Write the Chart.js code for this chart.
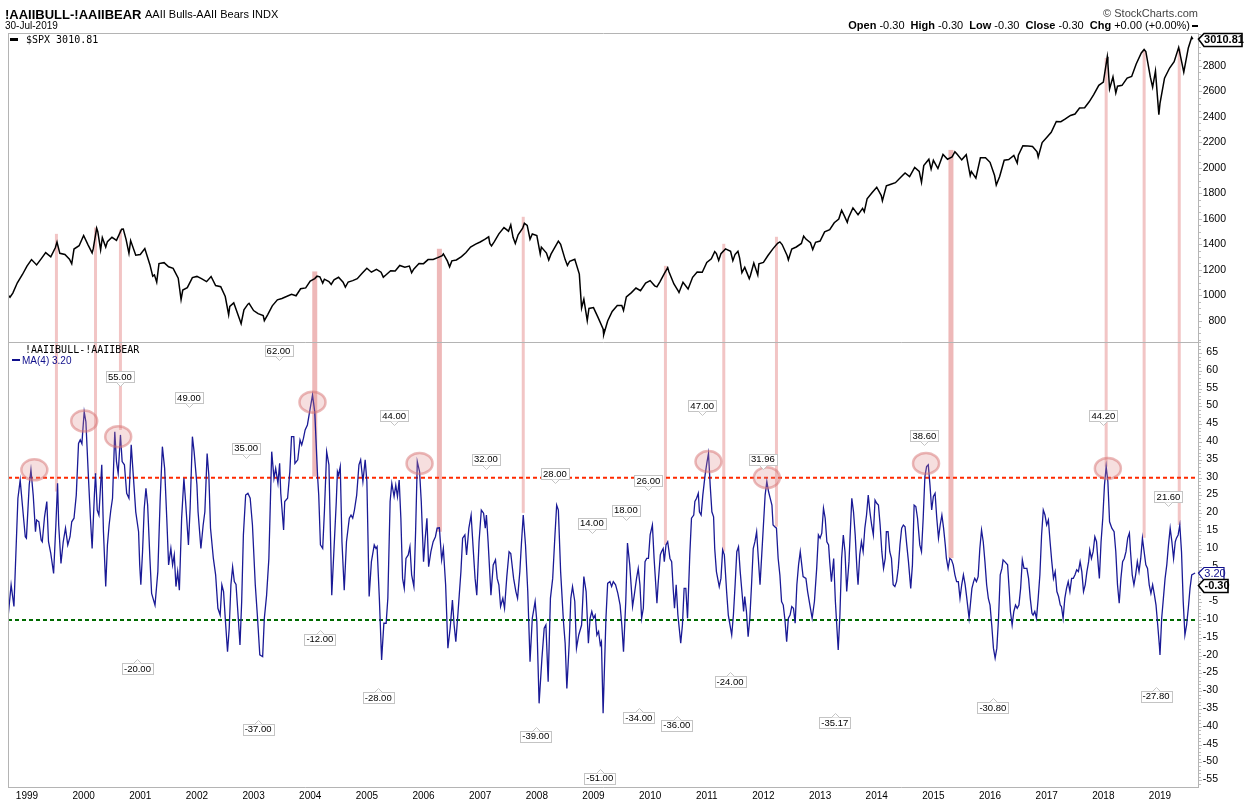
<!DOCTYPE html>
<html><head><meta charset="utf-8">
<script src="https://cdn.jsdelivr.net/npm/chart.js@4.4.1/dist/chart.umd.min.js"></script>
<style>html,body{margin:0;padding:0;background:#fff;overflow:hidden}#wrap{position:relative;width:1247px;height:807px}</style>
</head><body><div id="wrap"><canvas id="c" width="1247" height="807"></canvas></div>
<script>
// ---- x-axis tick labels
const years = [1999,2000,2001,2002,2003,2004,2005,2006,2007,2008,2009,2010,2011,2012,2013,2014,2015,2016,2017,2018,2019];
const spxTicks = [800,1000,1200,1400,1600,1800,2000,2200,2400,2600,2800];
const aaiiTicks = [-55,-50,-45,-40,-35,-30,-25,-20,-15,-10,-5,0,5,10,15,20,25,30,35,40,45,50,55,60,65];

// ---- $SPX (decimal year, close)
const spxDates = [
1998.67,1998.70,1998.75,1998.83,1998.92,1999.00,1999.08,1999.17,1999.25,1999.33,1999.42,1999.50,1999.53,1999.58,1999.67,1999.75,
1999.79,1999.83,1999.92,2000.00,2000.08,2000.15,2000.17,2000.23,2000.25,2000.30,2000.33,2000.39,2000.42,2000.50,2000.58,2000.67,
2000.70,2000.75,2000.80,2000.83,2000.92,2001.00,2001.08,2001.17,2001.22,2001.25,2001.29,2001.33,2001.42,2001.50,2001.58,2001.67,
2001.72,2001.75,2001.83,2001.92,2002.00,2002.08,2002.17,2002.25,2002.33,2002.42,2002.50,2002.56,2002.58,2002.65,2002.67,2002.75,
2002.78,2002.83,2002.90,2002.92,2003.00,2003.08,2003.17,2003.19,2003.25,2003.33,2003.42,2003.50,2003.58,2003.67,2003.75,2003.83,
2003.92,2004.00,2004.08,2004.12,2004.17,2004.22,2004.25,2004.33,2004.37,2004.42,2004.50,2004.58,2004.62,2004.67,2004.75,2004.83,
2004.92,2005.00,2005.08,2005.17,2005.25,2005.29,2005.33,2005.42,2005.50,2005.58,2005.67,2005.75,2005.79,2005.83,2005.92,2006.00,
2006.08,2006.17,2006.25,2006.33,2006.35,2006.42,2006.46,2006.50,2006.58,2006.67,2006.75,2006.83,2006.92,2007.00,2007.08,2007.15,
2007.17,2007.20,2007.25,2007.33,2007.42,2007.50,2007.54,2007.58,2007.62,2007.67,2007.75,2007.78,2007.83,2007.88,2007.92,2008.00,
2008.06,2008.08,2008.17,2008.21,2008.25,2008.33,2008.38,2008.42,2008.50,2008.54,2008.58,2008.67,2008.75,2008.79,2008.83,2008.89,
2008.92,2009.00,2009.08,2009.17,2009.18,2009.25,2009.33,2009.42,2009.50,2009.53,2009.58,2009.67,2009.75,2009.83,2009.92,2010.00,
2010.08,2010.12,2010.17,2010.25,2010.31,2010.33,2010.42,2010.50,2010.51,2010.58,2010.67,2010.75,2010.83,2010.92,2011.00,2011.08,
2011.14,2011.17,2011.21,2011.25,2011.33,2011.42,2011.46,2011.50,2011.55,2011.58,2011.62,2011.67,2011.75,2011.77,2011.83,2011.90,
2011.92,2012.00,2012.08,2012.17,2012.25,2012.29,2012.33,2012.42,2012.44,2012.50,2012.58,2012.67,2012.71,2012.75,2012.83,2012.87,
2012.92,2013.00,2013.08,2013.17,2013.25,2013.33,2013.38,2013.42,2013.48,2013.50,2013.58,2013.67,2013.75,2013.78,2013.83,2013.92,
2014.00,2014.08,2014.10,2014.17,2014.25,2014.33,2014.42,2014.50,2014.58,2014.67,2014.75,2014.79,2014.83,2014.92,2014.96,2015.00,
2015.08,2015.17,2015.25,2015.33,2015.38,2015.42,2015.50,2015.58,2015.65,2015.67,2015.75,2015.83,2015.92,2016.00,2016.08,
2016.11,2016.17,2016.25,2016.33,2016.42,2016.48,2016.50,2016.58,2016.67,2016.75,2016.83,2016.85,2016.92,2017.00,2017.08,2017.17,
2017.25,2017.33,2017.42,2017.50,2017.58,2017.67,2017.75,2017.83,2017.92,2018.00,2018.07,2018.08,2018.11,2018.17,2018.22,2018.25,
2018.33,2018.42,2018.50,2018.58,2018.67,2018.72,2018.75,2018.83,2018.87,2018.92,2018.98,2019.00,2019.08,2019.17,2019.25,2019.33,
2019.42,2019.50,2019.56,2019.58];
const spxValues = [
1000,985,1017,1098,1163,1229,1280,1238,1286,1335,1302,1373,1418,1329,1320,1283,
1247,1363,1389,1469,1394,1333,1366,1527,1499,1356,1452,1378,1421,1455,1431,1518,
1520,1437,1329,1429,1315,1320,1366,1240,1150,1160,1103,1249,1256,1224,1211,1134,
966,1041,1060,1139,1148,1130,1107,1147,1076,1067,990,847,912,940,916,815,
777,886,930,936,880,856,841,800,848,917,964,975,990,1008,996,1051,
1058,1112,1131,1150,1145,1095,1126,1107,1085,1121,1141,1102,1064,1104,1115,1130,
1174,1212,1181,1204,1181,1142,1157,1192,1191,1234,1220,1229,1177,1207,1249,1248,
1280,1281,1295,1311,1325,1270,1223,1270,1277,1304,1336,1378,1401,1418,1438,1459,
1407,1387,1421,1482,1531,1503,1553,1455,1406,1474,1527,1565,1549,1440,1481,1468,
1325,1378,1331,1276,1323,1386,1425,1400,1280,1234,1267,1283,1166,900,969,800,
896,903,826,735,690,798,873,919,919,880,987,1021,1057,1036,1096,1115,
1074,1066,1104,1169,1217,1187,1089,1031,1022,1102,1049,1141,1183,1181,1258,1286,
1343,1327,1273,1326,1364,1345,1271,1321,1345,1292,1178,1219,1131,1155,1253,1159,
1247,1258,1312,1366,1408,1419,1398,1310,1278,1362,1379,1407,1465,1441,1412,1359,
1416,1426,1498,1515,1569,1598,1667,1631,1573,1606,1686,1633,1682,1655,1757,1806,
1848,1783,1741,1859,1872,1884,1924,1960,1931,2003,1972,1886,2018,2068,1990,2059,
1995,2105,2068,2086,2127,2107,2063,2104,1940,1972,1920,2079,2080,2044,1940,
1865,1932,2060,2065,2097,2037,2099,2174,2171,2168,2126,2085,2199,2239,2279,2364,
2363,2384,2412,2423,2470,2472,2519,2575,2648,2674,2873,2824,2620,2714,2588,2641,
2648,2705,2718,2816,2902,2930,2914,2712,2633,2760,2417,2507,2704,2784,2834,2946,
2752,2942,3025,3011];

// ---- AAII Bulls-Bears, MA(4) (decimal year, value)
const aaiiDates = [
1998.67,1998.72,1998.77,1998.84,1998.88,1998.94,1998.97,1998.99,1999.04,1999.07,1999.11,1999.15,1999.17,1999.21,1999.25,1999.27,
1999.31,1999.35,1999.38,1999.42,1999.47,1999.51,1999.54,1999.56,1999.60,1999.64,1999.68,1999.72,1999.76,1999.79,1999.83,1999.87,
1999.91,1999.94,1999.97,1999.98,2000.01,2000.04,2000.08,2000.12,2000.15,2000.19,2000.21,2000.24,2000.27,2000.32,2000.35,2000.39,
2000.42,2000.45,2000.48,2000.51,2000.55,2000.58,2000.61,2000.65,2000.68,2000.72,2000.76,2000.80,2000.84,2000.88,2000.92,2000.97,
2000.99,2001.01,2001.04,2001.07,2001.10,2001.13,2001.17,2001.20,2001.26,2001.31,2001.35,2001.39,2001.43,2001.47,2001.50,2001.54,
2001.57,2001.60,2001.63,2001.66,2001.69,2001.73,2001.77,2001.80,2001.85,2001.88,2001.92,2001.95,2002.00,2002.02,2002.07,2002.11,
2002.14,2002.18,2002.21,2002.24,2002.29,2002.33,2002.37,2002.41,2002.44,2002.47,2002.50,2002.54,2002.57,2002.60,2002.63,2002.66,
2002.69,2002.73,2002.76,2002.79,2002.82,2002.86,2002.90,2002.94,2002.98,2003.03,2003.07,2003.11,2003.16,2003.19,2003.23,2003.27,
2003.32,2003.36,2003.39,2003.43,2003.46,2003.48,2003.53,2003.55,2003.60,2003.64,2003.67,2003.71,2003.73,2003.78,2003.82,2003.85,
2003.88,2003.91,2003.95,2003.98,2004.04,2004.08,2004.13,2004.15,2004.18,2004.22,2004.25,2004.29,2004.33,2004.35,2004.38,2004.42,
2004.46,2004.48,2004.50,2004.53,2004.56,2004.60,2004.64,2004.69,2004.72,2004.75,2004.78,2004.82,2004.86,2004.89,2004.93,2004.97,
2005.00,2005.04,2005.08,2005.13,2005.16,2005.18,2005.22,2005.26,2005.30,2005.34,2005.37,2005.41,2005.44,2005.48,2005.51,2005.54,
2005.57,2005.60,2005.63,2005.66,2005.69,2005.73,2005.76,2005.79,2005.83,2005.86,2005.89,2005.93,2005.96,2006.00,2006.03,2006.06,
2006.09,2006.13,2006.17,2006.21,2006.24,2006.28,2006.32,2006.35,2006.39,2006.43,2006.47,2006.51,2006.54,2006.57,2006.61,2006.66,
2006.69,2006.73,2006.76,2006.80,2006.84,2006.88,2006.91,2006.94,2006.98,2007.02,2007.06,2007.09,2007.11,2007.14,2007.19,2007.23,
2007.27,2007.30,2007.33,2007.36,2007.40,2007.43,2007.47,2007.51,2007.54,2007.59,2007.63,2007.66,2007.70,2007.73,2007.76,2007.80,
2007.84,2007.88,2007.92,2007.97,2008.00,2008.04,2008.09,2008.13,2008.16,2008.20,2008.24,2008.28,2008.32,2008.35,2008.38,2008.42,
2008.47,2008.50,2008.53,2008.57,2008.60,2008.63,2008.67,2008.70,2008.74,2008.79,2008.83,2008.87,2008.91,2008.94,2008.97,2009.00,
2009.03,2009.06,2009.09,2009.12,2009.14,2009.17,2009.22,2009.25,2009.29,2009.32,2009.35,2009.39,2009.43,2009.47,2009.50,2009.53,
2009.57,2009.60,2009.64,2009.69,2009.72,2009.76,2009.79,2009.82,2009.85,2009.88,2009.91,2009.94,2009.97,2010.00,2010.04,2010.07,
2010.12,2010.14,2010.18,2010.20,2010.23,2010.25,2010.28,2010.31,2010.35,2010.38,2010.41,2010.43,2010.46,2010.49,2010.52,2010.54,
2010.57,2010.60,2010.63,2010.66,2010.70,2010.73,2010.77,2010.79,2010.82,2010.85,2010.87,2010.90,2010.93,2010.97,2011.00,2011.03,
2011.06,2011.09,2011.12,2011.14,2011.17,2011.22,2011.25,2011.28,2011.31,2011.35,2011.38,2011.41,2011.44,2011.47,2011.50,2011.53,
2011.56,2011.59,2011.62,2011.65,2011.67,2011.70,2011.73,2011.76,2011.79,2011.82,2011.85,2011.88,2011.91,2011.94,2011.97,2012.00,
2012.03,2012.06,2012.09,2012.12,2012.15,2012.17,2012.20,2012.23,2012.26,2012.29,2012.32,2012.35,2012.38,2012.41,2012.44,2012.47,
2012.50,2012.53,2012.56,2012.59,2012.62,2012.65,2012.67,2012.70,2012.75,2012.78,2012.82,2012.86,2012.90,2012.94,2012.97,2013.00,
2013.03,2013.06,2013.09,2013.12,2013.15,2013.17,2013.20,2013.24,2013.27,2013.32,2013.35,2013.38,2013.41,2013.44,2013.47,2013.51,
2013.56,2013.59,2013.62,2013.65,2013.67,2013.70,2013.73,2013.76,2013.79,2013.82,2013.85,2013.88,2013.91,2013.94,2013.97,2014.00,
2014.03,2014.06,2014.09,2014.12,2014.15,2014.17,2014.20,2014.23,2014.26,2014.29,2014.32,2014.35,2014.38,2014.41,2014.44,2014.47,
2014.50,2014.53,2014.56,2014.60,2014.63,2014.66,2014.69,2014.72,2014.76,2014.79,2014.82,2014.85,2014.88,2014.91,2014.94,2014.97,
2015.00,2015.03,2015.06,2015.09,2015.12,2015.15,2015.18,2015.21,2015.23,2015.26,2015.29,2015.32,2015.35,2015.38,2015.41,2015.44,
2015.47,2015.50,2015.53,2015.56,2015.59,2015.63,2015.68,2015.71,2015.73,2015.76,2015.79,2015.82,2015.85,2015.88,2015.91,2015.94,
2015.97,2016.00,2016.03,2016.06,2016.09,2016.12,2016.15,2016.18,2016.21,2016.23,2016.26,2016.31,2016.34,2016.36,2016.39,2016.42,
2016.45,2016.48,2016.51,2016.54,2016.57,2016.60,2016.65,2016.68,2016.71,2016.74,2016.76,2016.79,2016.82,2016.85,2016.88,2016.91,
2016.94,2016.97,2017.00,2017.03,2017.06,2017.09,2017.12,2017.15,2017.18,2017.21,2017.24,2017.26,2017.29,2017.32,2017.35,2017.38,
2017.41,2017.44,2017.47,2017.50,2017.53,2017.56,2017.59,2017.62,2017.65,2017.68,2017.71,2017.74,2017.76,2017.79,2017.82,2017.85,
2017.88,2017.91,2017.93,2017.96,2017.99,2018.02,2018.05,2018.08,2018.11,2018.15,2018.19,2018.22,2018.25,2018.28,2018.31,2018.34,
2018.37,2018.40,2018.43,2018.46,2018.48,2018.51,2018.54,2018.57,2018.60,2018.63,2018.66,2018.69,2018.72,2018.75,2018.78,2018.81,
2018.84,2018.87,2018.90,2018.93,2018.96,2018.99,2019.00,2019.03,2019.06,2019.09,2019.12,2019.15,2019.18,2019.21,2019.24,2019.27,
2019.29,2019.32,2019.35,2019.38,2019.41,2019.44,2019.47,2019.50,2019.53,2019.56,2019.62];
const aaiiValues = [
-8.6,-0.1,-6.2,24.2,29.3,18.6,13.4,13.0,28.0,32.2,25.1,14.8,18.1,17.6,12.5,12.0,
19.0,23.3,12.0,8.7,3.1,16.7,28.4,16.7,5.9,12.0,15.8,11.1,13.4,17.6,18.6,25.1,
39.6,40.6,39.5,42.0,48.5,45.7,31.7,18.6,10.1,25.1,31.2,20.9,19.5,33.6,14.8,-0.6,
11.1,16.7,20.9,24.2,42.9,34.5,31.2,42.0,34.5,33.6,25.6,24.2,39.2,29.8,20.4,14.8,
5.5,-0.1,9.2,21.4,27.0,22.3,7.3,-2.5,-5.8,3.6,23.3,38.7,32.6,17.6,5.5,10.1,
5.5,8.3,-0.6,3.6,-1.6,18.6,29.8,23.3,11.1,21.4,41.5,37.3,28.0,20.4,10.1,16.7,
20.4,36.8,30.7,15.8,7.3,2.7,-6.7,-8.6,-0.1,-2.0,-9.5,-18.9,-12.3,-0.1,4.9,0.8,
0.0,-9.5,-17.0,-4.8,13.9,25.1,25.6,24.2,16.7,-0.1,-9.5,-19.8,-20.3,-9.5,-3.0,7.3,
37.3,29.8,32.6,28.4,34.0,25.6,15.3,23.3,24.2,31.7,41.5,41.5,34.0,35.0,40.6,39.2,
41.0,43.4,44.8,47.6,53.2,48.5,30.3,25.1,11.1,10.1,20.4,37.3,33.6,19.5,-3.0,10.1,
23.3,31.7,30.7,33.1,12.0,-1.6,12.0,18.6,19.5,18.6,20.9,25.1,33.6,35.0,28.9,35.0,
28.9,-3.4,6.4,11.1,10.1,10.6,-3.9,-21.2,-10.9,-10.9,-3.9,23.3,28.4,24.7,27.9,24.7,
29.3,18.6,1.7,-1.1,7.3,8.3,10.6,2.7,-0.6,14.8,34.5,31.7,23.3,6.4,13.0,18.6,
5.0,9.2,12.0,13.4,15.8,15.9,6.9,10.1,-0.1,-17.9,-12.3,-4.4,-11.4,-16.1,-7.6,3.6,
13.0,13.9,8.3,15.8,19.5,9.2,1.7,-3.0,12.0,20.9,20.0,15.8,19.5,12.0,-3.0,5.5,
6.9,1.7,-0.1,-6.2,-3.9,-6.7,2.2,9.2,8.7,1.7,-2.0,-3.9,3.6,12.0,19.5,11.1,
-2.0,-21.7,-9.5,-4.8,-10.4,-33.4,-20.7,-12.3,-11.4,-27.3,-3.9,1.7,13.9,22.3,20.9,3.6,
-10.4,-16.5,-29.2,-17.0,-3.9,-0.6,-4.8,-17.9,-14.2,-11.4,2.2,-2.0,-16.5,-9.5,-7.6,-9.5,
-8.6,-14.2,-13.2,-17.0,-16.1,-36.2,-9.5,0.3,0.8,-0.6,0.8,-0.1,-2.5,-5.8,-11.4,-18.9,
-4.8,11.6,5.5,-6.2,-3.0,1.7,4.5,-0.1,-9.5,-6.7,6.4,7.3,7.3,13.9,16.7,7.3,
-5.3,-0.1,8.3,9.2,10.1,6.4,11.1,12.0,7.3,6.4,-2.0,-6.7,-0.1,-8.6,-13.3,-16.5,
-11.4,-1.1,-1.1,-9.5,8.3,18.6,19.5,23.3,24.2,25.6,20.4,19.5,25.1,30.7,34.0,36.8,
27.9,20.4,19.0,10.1,3.6,-0.6,1.7,9.7,8.3,-2.0,-8.6,-11.4,-14.2,-8.6,-0.1,9.2,
10.6,3.6,-2.0,-7.6,-3.4,-7.6,-14.7,-9.5,-0.1,10.1,12.0,14.8,7.3,-0.1,8.3,16.7,
25.1,28.9,26.1,24.2,22.3,16.7,16.2,15.8,7.3,2.7,-4.8,-5.8,-10.0,-16.1,-9.5,-8.6,
-6.2,-6.7,-10.9,-0.1,5.5,9.2,6.4,2.2,1.7,-2.0,-5.8,-9.5,-4.8,4.5,13.9,13.0,
14.4,21.4,18.6,12.0,11.1,6.4,0.8,7.3,-4.8,-18.4,-8.6,7.3,13.9,9.2,-2.0,6.4,
24.2,20.4,13.9,4.5,-0.1,8.3,12.0,9.2,15.8,19.5,25.1,20.4,16.7,13.9,23.7,22.8,
22.3,16.7,9.2,4.5,7.3,14.8,14.8,9.2,7.3,-0.1,-0.6,0.8,4.5,11.1,15.8,16.7,
16.2,11.1,6.4,-1.1,5.5,22.3,21.9,18.6,11.1,9.2,18.6,30.3,33.1,33.6,27.9,20.9,
24.7,25.6,18.6,13.0,16.7,19.5,15.8,11.1,7.3,4.5,7.3,6.9,5.5,2.7,0.8,0.8,
-3.9,-0.1,2.7,0.0,-3.9,-9.5,-1.1,0.8,1.7,0.8,2.2,10.1,15.3,12.0,6.4,-0.1,
-3.9,-5.8,-11.4,-17.9,-20.7,-17.9,-9.5,2.7,4.5,6.9,6.4,5.5,-2.0,-7.6,-11.4,-7.6,
-5.8,-6.7,-5.8,-1.1,6.9,4.5,4.5,1.7,-3.9,-8.1,-8.6,-7.6,-9.5,-3.9,2.7,13.9,
20.9,19.5,16.7,18.1,12.0,6.4,1.7,3.6,-2.0,-3.4,-5.8,-6.2,-9.5,-3.9,-1.1,0.8,
-2.0,1.7,1.7,2.7,4.1,3.6,6.4,3.6,-2.0,-0.1,3.6,6.4,9.7,7.3,9.2,13.4,
12.0,5.5,1.7,12.0,18.6,27.9,33.1,28.9,17.6,15.8,14.8,9.2,-0.1,-5.3,1.7,6.4,
7.3,9.2,13.0,14.4,9.2,2.7,-0.1,2.7,6.4,3.6,7.3,13.0,9.2,5.5,4.5,-0.1,
-2.5,-0.1,-2.8,-5.8,-11.4,-17.3,-19.8,-9.5,-3.9,1.7,5.5,11.1,15.8,12.0,7.3,12.0,
13.0,13.9,16.7,9.2,-4.8,-14.2,-11.4,-6.7,-1.1,2.7,3.2];

// ---- reference levels, last values
const upperLevel = 30;
const lowerLevel = -10;
const lastSpx = 3010.81;
const lastMA = 3.20;
const lastRaw = -0.30;

// ---- highlighted signals (vertical bars from AAII up to SPX)
const barDates = [1999.52,2000.21,2000.65,2004.08,2006.28,2007.76,2010.27,2011.30,2012.23,2015.31,2018.05,2018.72,2019.34];
const barSpx   = [1482,1532,1514,1187,1365,1616,1231,1404,1459,2141,2863,2925,2935];
const barAaii  = [26.1,30.8,43.4,30.3,14.8,20.1,11.1,9.2,16.2,7.4,33.1,13.1,16.7];
const barWidths = [3,3,3,5,5,3,3,3,3,5,3,3,3];

// ---- circled peaks
const circleDates  = [1999.13,2000.01,2000.61,2004.04,2005.93,2011.03,2012.06,2014.87,2018.08];
const circleValues = [32.2,45.9,41.5,51.2,34.0,34.5,30.0,34.0,32.6];

// ---- annotation tags
const labelTexts  = ["62.00","55.00","49.00","35.00","44.00","32.00","28.00","14.00","18.00","26.00","47.00","31.96","38.60","44.20","21.60",
                     "-20.00","-37.00","-12.00","-28.00","-39.00","-51.00","-34.00","-36.00","-24.00","-35.17","-30.80","-27.80"];
const labelDates  = [2003.44,2000.64,2001.86,2002.87,2005.48,2007.10,2008.32,2008.97,2009.57,2009.97,2010.92,2011.99,2014.84,2018.00,2019.15,
                     2000.95,2003.08,2004.17,2005.20,2007.98,2009.11,2009.80,2010.47,2011.41,2013.26,2016.05,2018.93];
const labelValues = [65.7,58.4,52.5,38.3,47.4,35.2,31.1,17.2,20.9,29.1,50.2,35.2,41.8,47.4,24.7,
                     -23.7,-40.7,-15.4,-31.8,-42.6,-54.4,-37.5,-39.5,-27.4,-38.8,-34.6,-31.4];

// ---------------------------------------------------------------
const X_MIN = 1998.665, X_MAX = 2019.671;
const spxPts = spxDates.map((d,i)=>({x:d,y:spxValues[i]}));
const aaiiPts = aaiiDates.map((d,i)=>({x:d,y:aaiiValues[i]}));
const SANS = '"Liberation Sans", Arial, sans-serif';
const AXIS_GRAY = '#b4b4b4';

function tag(ctx, cx, cy, text, pointUp){
  ctx.font = '9.5px ' + SANS;
  const w = Math.round(ctx.measureText(text).width + 4), h = 11;
  const l = Math.round(cx - w/2) + 0.5, t = Math.round(cy - h/2) + 0.5;
  ctx.fillStyle = '#fff'; ctx.fillRect(l, t, w, h);
  ctx.strokeStyle = '#c4c4c4'; ctx.lineWidth = 1; ctx.strokeRect(l, t, w, h);
  const px = Math.round(cx) + 0.5;
  ctx.beginPath();
  if (pointUp){ ctx.moveTo(px-4, t); ctx.lineTo(px, t-4); ctx.lineTo(px+4, t); }
  else { ctx.moveTo(px-4, t+h); ctx.lineTo(px, t+h+4); ctx.lineTo(px+4, t+h); }
  ctx.fillStyle='#fff'; ctx.fill(); ctx.stroke();
  ctx.fillStyle = '#000'; ctx.textAlign = 'center'; ctx.textBaseline = 'middle';
  ctx.fillText(text, cx, cy + 0.5);
}
function valueBox(ctx, cy, text, color, bold, w){
  const l = 1198, h = 13, t = Math.round(cy - h/2) + 0.5;
  ctx.beginPath();
  ctx.moveTo(l + 0.5, cy); ctx.lineTo(l + 6, t); ctx.lineTo(l + w, t); ctx.lineTo(l + w, t + h); ctx.lineTo(l + 6, t + h); ctx.closePath();
  ctx.fillStyle = '#fff'; ctx.fill();
  ctx.strokeStyle = color; ctx.lineWidth = bold ? 1.6 : 1.2; ctx.stroke();
  ctx.fillStyle = color; ctx.font = (bold ? 'bold ' : '') + '11px ' + SANS;
  ctx.textAlign = 'center'; ctx.textBaseline = 'middle';
  ctx.fillText(text, l + 4 + w/2, cy + 0.5);
}

const overlay = {
  id: 'overlay',
  beforeDatasetsDraw(chart){
    const {ctx, scales:{x, ySpx, yA}} = chart;
    ctx.save();
    barDates.forEach((d,i)=>{
      const px = x.getPixelForValue(d);
      const top = ySpx.getPixelForValue(barSpx[i]);
      const bot = yA.getPixelForValue(barAaii[i]);
      ctx.fillStyle = barWidths[i] > 3 ? 'rgba(228,140,140,0.62)' : 'rgba(232,150,150,0.55)';
      ctx.fillRect(px - barWidths[i]/2, top, barWidths[i], bot - top);
    });
    ctx.restore();
  },
  afterDatasetsDraw(chart){
    const {ctx, scales:{x, ySpx, yA}} = chart;
    ctx.save();
    // circles
    circleDates.forEach((d,i)=>{
      const cx = x.getPixelForValue(d), cy = yA.getPixelForValue(circleValues[i]);
      ctx.beginPath(); ctx.ellipse(cx, cy, 13, 10.5, 0, 0, Math.PI*2);
      ctx.fillStyle = 'rgba(222,140,140,0.28)'; ctx.fill();
      ctx.strokeStyle = 'rgba(215,115,115,0.5)'; ctx.lineWidth = 2.5; ctx.stroke();
    });
    // tags
    labelTexts.forEach((t,i)=>{
      tag(ctx, x.getPixelForValue(labelDates[i]), yA.getPixelForValue(labelValues[i]), t, t.charAt(0)==='-');
    });
    // frame
    const L = chart.chartArea.left, R = chart.chartArea.right, T = chart.chartArea.top, B = chart.chartArea.bottom;
    const mid = Math.round(ySpx.bottom) + 0.5;
    ctx.strokeStyle = AXIS_GRAY; ctx.lineWidth = 1;
    ctx.beginPath();
    ctx.moveTo(L + 0.5, T + 0.5); ctx.lineTo(R + 0.5, T + 0.5);
    ctx.moveTo(L + 0.5, T); ctx.lineTo(L + 0.5, B);
    ctx.moveTo(R + 0.5, T); ctx.lineTo(R + 0.5, B);
    ctx.moveTo(L, mid); ctx.lineTo(R + 1, mid);
    ctx.moveTo(L, Math.round(B) + 0.5); ctx.lineTo(R + 1, Math.round(B) + 0.5);
    ctx.stroke();
    // right axis minor / major ticks
    ctx.strokeStyle = '#bdbdbd';
    ctx.beginPath();
    for (let v = -56; v <= 68; v++){
      const py = Math.round(yA.getPixelForValue(v)) + 0.5;
      const len = (v % 5 === 0) ? 3 : 2;
      ctx.moveTo(R + 1, py); ctx.lineTo(R + 1 + len, py);
    }
    for (let v = 650; v <= 3050; v += 50){
      const py = Math.round(ySpx.getPixelForValue(v)) + 0.5;
      const len = (v % 200 === 0) ? 3 : 2;
      ctx.moveTo(R + 1, py); ctx.lineTo(R + 1 + len, py);
    }
    ctx.stroke();
    // right axis labels (right aligned like the original)
    ctx.fillStyle = '#000'; ctx.font = '10.5px ' + SANS; ctx.textAlign = 'right'; ctx.textBaseline = 'middle';
    spxTicks.forEach(v => ctx.fillText(String(v), 1226, ySpx.getPixelForValue(v)));
    aaiiTicks.forEach(v => ctx.fillText(String(v), 1218, yA.getPixelForValue(v) - 1));
    // value boxes at the right
    valueBox(ctx, ySpx.getPixelForValue(lastSpx), lastSpx.toFixed(2), '#000', true, 44);
    valueBox(ctx, yA.getPixelForValue(lastMA), lastMA.toFixed(2), '#10108c', false, 26);
    valueBox(ctx, yA.getPixelForValue(lastRaw), lastRaw.toFixed(2), '#000', true, 30);

    // header
    ctx.textAlign = 'left'; ctx.textBaseline = 'alphabetic'; ctx.fillStyle = '#000';
    ctx.font = 'bold 13px ' + SANS; ctx.fillText('!AAIIBULL-!AAIIBEAR', 5, 19);
    ctx.font = '11px ' + SANS; ctx.fillText('AAII Bulls-AAII Bears INDX', 145, 18);
    ctx.font = '10px ' + SANS; ctx.fillText('30-Jul-2019', 5, 29);
    ctx.font = '11px ' + SANS; ctx.fillStyle = '#444'; ctx.textAlign = 'right';
    ctx.fillText('\u00A9 StockCharts.com', 1198, 17);
    // OHLC line (right aligned)
    const segs = [['Open',true],[' -0.30  ',false],['High',true],[' -0.30  ',false],['Low',true],[' -0.30  ',false],['Close',true],[' -0.30  ',false],['Chg',true],[' +0.00 (+0.00%)',false]];
    let total = 0;
    segs.forEach(s=>{ ctx.font = (s[1]?'bold ':'') + '11px ' + SANS; total += ctx.measureText(s[0]).width; });
    let xx = 1190 - total;
    ctx.textAlign = 'left'; ctx.fillStyle = '#000';
    segs.forEach(s=>{ ctx.font = (s[1]?'bold ':'') + '11px ' + SANS; ctx.fillText(s[0], xx, 29); xx += ctx.measureText(s[0]).width; });
    ctx.fillRect(1192, 25, 6, 2);
    // panel legends
    ctx.fillRect(10, 38, 8, 3);
    ctx.font = '10px "DejaVu Sans Mono", monospace'; ctx.fillText('$SPX 3010.81', 26, 43);
    ctx.fillText('!AAIIBULL-!AAIIBEAR', 25, 353);
    ctx.fillStyle = '#10108c'; ctx.fillRect(12, 359, 8, 2);
    ctx.font = '10px ' + SANS; ctx.fillText('MA(4) 3.20', 22, 364);
    ctx.restore();
  }
};

new Chart(document.getElementById('c'), {
  type: 'line',
  data: { datasets: [
    { data: spxPts, yAxisID: 'ySpx', borderColor: '#000', borderWidth: 1.5, pointRadius: 0, tension: 0 },
    { data: aaiiPts, yAxisID: 'yA', borderColor: '#1a1a96', borderWidth: 1.3, pointRadius: 0, tension: 0 },
    { data: [{x:X_MIN,y:upperLevel},{x:X_MAX,y:upperLevel}], yAxisID: 'yA', borderColor: '#ff2a00', borderWidth: 2, borderDash: [4,3], pointRadius: 0 },
    { data: [{x:X_MIN,y:lowerLevel},{x:X_MAX,y:lowerLevel}], yAxisID: 'yA', borderColor: '#006a00', borderWidth: 2, borderDash: [4,3], pointRadius: 0 }
  ]},
  options: {
    responsive: false, animation: false, devicePixelRatio: 1,
    layout: { padding: { left: 8, top: 33, right: 0, bottom: 0 } },
    plugins: { legend: { display: false }, tooltip: { enabled: false } },
    scales: {
      x: { type: 'linear', position: 'bottom', min: X_MIN, max: X_MAX,
        grid: { display: false, drawTicks: false }, border: { display: false },
        afterBuildTicks: s => { s.ticks = years.map(v=>({value:v})); },
        afterFit: s => { s.height = 20; },
        ticks: { autoSkip: false, maxRotation: 0, padding: 3, color: '#000', font: { family: SANS, size: 10 }, callback: v => String(v) } },
      ySpx: { type: 'linear', position: 'right', stack: 'p', stackWeight: 309, min: 633, max: 3059,
        grid: { display: false, drawTicks: false }, border: { display: false },
        afterBuildTicks: s => { s.ticks = spxTicks.map(v=>({value:v})); },
        afterFit: s => { s.width = 49; },
        ticks: { display: false } },
      yA: { type: 'linear', position: 'right', stack: 'p', stackWeight: 445, min: -56.9, max: 68.1,
        grid: { display: false, drawTicks: false }, border: { display: false },
        afterBuildTicks: s => { s.ticks = aaiiTicks.map(v=>({value:v})); },
        afterFit: s => { s.width = 49; },
        ticks: { display: false } }
    }
  },
  plugins: [overlay]
});
</script>
</body></html>
